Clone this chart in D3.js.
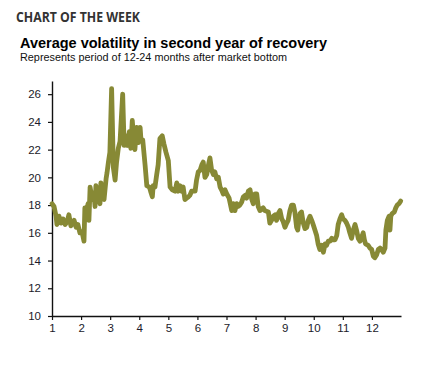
<!DOCTYPE html>
<html>
<head>
<meta charset="utf-8">
<script src="https://cdn.jsdelivr.net/npm/d3@7"></script>
<style>
  body { margin: 0; background: #fff; }
  svg text { font-family: "Liberation Sans", Arial, sans-serif; }
</style>
</head>
<body>
<div id="chart"></div>
<script>
// month position after market bottom (1 = start of second year)
const months = [
  1.00, 1.07, 1.14, 1.17, 1.24, 1.31, 1.38, 1.45, 1.52, 1.58, 1.65, 1.76, 1.83, 1.89, 1.96,
  2.03, 2.10, 2.13, 2.20, 2.24, 2.27, 2.31, 2.38, 2.44, 2.48, 2.51, 2.58, 2.65, 2.68, 2.72,
  2.75, 2.79, 2.86, 2.89, 2.94, 2.99, 3.05, 3.11, 3.17, 3.22, 3.28, 3.34, 3.43, 3.48, 3.54,
  3.59, 3.66, 3.71, 3.76, 3.80, 3.85, 3.91, 3.97, 4.03, 4.06, 4.12, 4.20, 4.26, 4.35, 4.39,
  4.45, 4.48, 4.54, 4.60, 4.65, 4.71, 4.79, 4.85, 4.92, 5.00, 5.06, 5.14, 5.23, 5.29, 5.34,
  5.40, 5.46, 5.51, 5.57, 5.63, 5.69, 5.74, 5.80, 5.92, 5.97, 6.03, 6.09, 6.15, 6.20, 6.26,
  6.32, 6.37, 6.43, 6.49, 6.55, 6.60, 6.66, 6.72, 6.78, 6.83, 6.89, 6.95, 7.01, 7.09, 7.18,
  7.23, 7.29, 7.35, 7.40, 7.46, 7.52, 7.58, 7.64, 7.69, 7.75, 7.81, 7.87, 7.92, 7.98, 8.04,
  8.09, 8.15, 8.26, 8.32, 8.44, 8.49, 8.55, 8.61, 8.67, 8.72, 8.78, 8.84, 8.90, 8.95, 9.01,
  9.07, 9.12, 9.18, 9.24, 9.30, 9.35, 9.41, 9.45, 9.49, 9.53, 9.58, 9.64, 9.70, 9.76, 9.81,
  9.87, 9.93, 9.98, 10.04, 10.10, 10.15, 10.21, 10.27, 10.33, 10.39, 10.44, 10.50, 10.56, 10.62, 10.67,
  10.73, 10.79, 10.84, 10.90, 10.96, 11.01, 11.07, 11.13, 11.19, 11.24, 11.30, 11.36, 11.42, 11.47, 11.53,
  11.59, 11.65, 11.70, 11.74, 11.78, 11.87, 11.93, 11.99, 12.05, 12.10, 12.16, 12.22, 12.28, 12.33, 12.39,
  12.45, 12.48, 12.53, 12.59, 12.62, 12.65, 12.70, 12.77, 12.82, 12.87, 12.93, 12.99
];
// average volatility
const volatility = [
  18.1, 17.9, 17.2, 16.6, 17.2, 16.7, 17.0, 16.6, 16.8, 17.3, 16.5, 16.9, 16.4, 16.6, 16.0,
  16.1, 15.4, 17.8, 17.7, 18.1, 16.9, 19.3, 18.4, 18.9, 17.9, 19.4, 18.7, 18.1, 19.6, 18.9,
  19.2, 18.4, 19.9, 20.3, 21.1, 21.8, 26.4, 20.7, 19.8, 21.1, 22.1, 22.6, 26.0, 22.3, 23.0,
  22.3, 23.3, 22.1, 24.1, 23.0, 22.0, 23.6, 22.5, 23.6, 22.7, 22.7, 20.9, 19.4, 19.3, 19.0,
  18.6, 19.4, 19.3, 20.2, 20.9, 22.8, 23.0, 22.4, 21.8, 21.2, 19.3, 19.1, 19.0, 19.6, 19.0,
  19.4, 19.0, 19.3, 18.4, 18.5, 18.6, 18.7, 19.0, 19.0, 19.8, 20.4, 20.5, 20.9, 21.1, 20.0,
  20.2, 20.8, 21.4, 20.5, 20.2, 20.4, 19.9, 20.0, 19.3, 19.1, 18.8, 19.1, 18.8, 18.5, 17.6,
  18.1, 17.6, 18.1, 17.9, 18.0, 18.2, 18.6, 18.7, 18.5, 19.0, 19.1, 18.4, 18.1, 18.8, 18.8,
  17.9, 17.6, 17.8, 17.6, 17.5, 16.7, 16.9, 17.2, 17.3, 16.9, 17.4, 17.6, 17.0, 16.8, 16.4,
  16.7, 16.9, 17.6, 18.0, 18.0, 17.5, 16.4, 16.2, 16.9, 17.4, 17.5, 16.7, 16.3, 16.4, 16.9,
  17.2, 16.9, 16.6, 16.2, 15.8, 15.2, 14.8, 15.1, 14.6, 15.2, 15.1, 15.4, 15.4, 15.6, 15.5,
  15.5, 15.8, 16.6, 17.0, 17.3, 17.0, 16.9, 16.7, 16.4, 16.0, 15.6, 16.2, 16.6, 16.2, 15.6,
  15.4, 15.7, 16.0, 15.5, 15.2, 15.1, 14.9, 14.8, 14.3, 14.2, 14.4, 14.8, 14.9, 14.8, 14.6,
  14.9, 16.2, 16.9, 17.2, 16.2, 17.2, 17.4, 17.5, 17.8, 18.0, 18.1, 18.3
];
const xTicks = [1, 2, 3, 4, 5, 6, 7, 8, 9, 10, 11, 12];
const yTicks = [10, 12, 14, 16, 18, 20, 22, 24, 26];

const width = 424, height = 365;
const margin = {top: 81, right: 23, bottom: 49, left: 52};

const svg = d3.select('#chart').append('svg')
  .attr('width', width).attr('height', height);

// headings
svg.append('text').attr('x', 16).attr('y', 22)
  .attr('textLength', 124).attr('lengthAdjust', 'spacingAndGlyphs')
  .style('font-family', '"Open Sans", sans-serif')
  .style('font-weight', 700).style('font-size', '14px').style('fill', '#333')
  .text('CHART OF THE WEEK');
svg.append('text').attr('x', 20).attr('y', 48)
  .attr('textLength', 307).attr('lengthAdjust', 'spacingAndGlyphs')
  .style('font-weight', 700).style('font-size', '15px').style('fill', '#000')
  .text('Average volatility in second year of recovery');
svg.append('text').attr('x', 20).attr('y', 61)
  .attr('textLength', 267).attr('lengthAdjust', 'spacingAndGlyphs')
  .style('font-size', '10px').style('fill', '#111')
  .text('Represents period of 12-24 months after market bottom');

const x = d3.scaleLinear().domain([1, 13]).range([margin.left, width - margin.right]);
const y = d3.scaleLinear().domain([10, 26.95]).range([height - margin.bottom, margin.top]);

const xAxis = svg.append('g')
  .attr('transform', `translate(0,${height - margin.bottom})`)
  .call(d3.axisBottom(x).tickValues(xTicks).tickSizeInner(4).tickSizeOuter(0).tickPadding(4));
const yAxis = svg.append('g')
  .attr('transform', `translate(${margin.left},0)`)
  .call(d3.axisLeft(y).tickValues(yTicks).tickSizeInner(4).tickSizeOuter(0).tickPadding(7));

[xAxis, yAxis].forEach(a => {
  a.select('.domain').attr('stroke', '#111').attr('stroke-width', 1.4);
  a.selectAll('.tick line').attr('stroke', '#111').attr('stroke-width', 1.2);
  a.selectAll('.tick text').style('font-size', '11.5px').style('fill', '#1b1b2a')
    .style('font-family', '"Liberation Sans", Arial, sans-serif');
});

const series = months.map((m, i) => ({m: m, v: volatility[i]}));
const line = d3.line().x(d => x(d.m)).y(d => y(d.v));

svg.append('path').datum(series)
  .attr('d', line)
  .attr('fill', 'none')
  .attr('stroke', '#878935')
  .attr('stroke-width', 4.8)
  .attr('stroke-linejoin', 'round')
  .attr('stroke-linecap', 'round');
</script>
</body>
</html>
